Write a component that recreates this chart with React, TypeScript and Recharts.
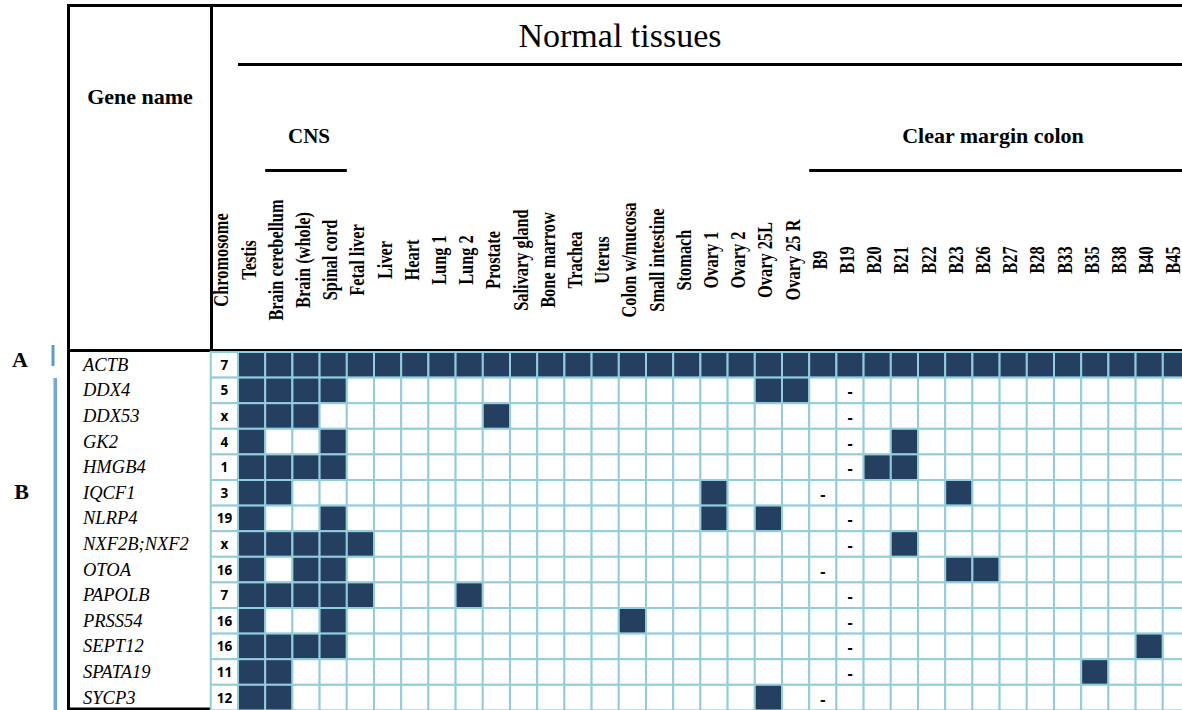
import React from 'react';
import { ScatterChart, Scatter, XAxis, YAxis, Customized } from 'recharts';

const tissues = [
  'Testis', 'Brain cerebellum', 'Brain (whole)', 'Spinal cord', 'Fetal liver', 'Liver', 'Heart',
  'Lung 1', 'Lung 2', 'Prostate', 'Salivary gland', 'Bone marrow', 'Trachea', 'Uterus',
  'Colon w/mucosa', 'Small intestine', 'Stomach', 'Ovary 1', 'Ovary 2', 'Ovary 25L', 'Ovary 25 R',
];
const colonSamples = ['B9', 'B19', 'B20', 'B21', 'B22', 'B23', 'B26', 'B27', 'B28', 'B33', 'B35', 'B38', 'B40', 'B45'];
const genes = ['ACTB', 'DDX4', 'DDX53', 'GK2', 'HMGB4', 'IQCF1', 'NLRP4', 'NXF2B;NXF2', 'OTOA', 'PAPOLB', 'PRSS54', 'SEPT12', 'SPATA19', 'SYCP3'];
const chromosomes = ['7', '5', 'x', '4', '1', '3', '19', 'x', '16', '7', '16', '16', '11', '12'];

// samples with expression, one list per gene
const actbOn = [...tissues, ...colonSamples];
const ddx4On = ['Testis', 'Brain cerebellum', 'Brain (whole)', 'Spinal cord', 'Ovary 25L', 'Ovary 25 R'];
const ddx53On = ['Testis', 'Brain cerebellum', 'Brain (whole)', 'Prostate'];
const gk2On = ['Testis', 'Spinal cord', 'B21'];
const hmgb4On = ['Testis', 'Brain cerebellum', 'Brain (whole)', 'Spinal cord', 'B20', 'B21'];
const iqcf1On = ['Testis', 'Brain cerebellum', 'Ovary 1', 'B23'];
const nlrp4On = ['Testis', 'Spinal cord', 'Ovary 1', 'Ovary 25L'];
const nxf2On = ['Testis', 'Brain cerebellum', 'Brain (whole)', 'Spinal cord', 'Fetal liver', 'B21'];
const otoaOn = ['Testis', 'Brain (whole)', 'Spinal cord', 'B23', 'B26'];
const papolbOn = ['Testis', 'Brain cerebellum', 'Brain (whole)', 'Spinal cord', 'Fetal liver', 'Lung 2'];
const prss54On = ['Testis', 'Spinal cord', 'Colon w/mucosa'];
const sept12On = ['Testis', 'Brain cerebellum', 'Brain (whole)', 'Spinal cord', 'B40'];
const spata19On = ['Testis', 'Brain cerebellum', 'B35'];
const sycp3On = ['Testis', 'Brain cerebellum', 'Ovary 25L'];

// sample marked with a dash in each row
const dashSample = ['', 'B19', 'B19', 'B19', 'B19', 'B9', 'B19', 'B19', 'B9', 'B19', 'B19', 'B19', 'B19', 'B9'];

const detectedByGene = [
  actbOn, ddx4On, ddx53On, gk2On, hmgb4On, iqcf1On, nlrp4On,
  nxf2On, otoaOn, papolbOn, prss54On, sept12On, spata19On, sycp3On,
];

const samples = [...tissues, ...colonSamples];
const columns = ['Chromosome', ...samples];

const COL_W = 27.2;
const ROW_H = 25.6;
const TOP = 352;
const LEFT = 210.8;
const NAVY = '#243F60';
const GRID = '#92CDDC';
const SERIF = "'Liberation Serif', 'Times New Roman', serif";
const SANS = "'Open Sans', 'Noto Sans', 'Liberation Sans', sans-serif";

const chromCells = genes.map((_, r) => ({ col: -1, row: r, label: chromosomes[r] }));
const exprCells = genes.flatMap((_, r) =>
  samples.map((s, c) => ({
    col: c,
    row: r,
    on: detectedByGene[r].includes(s),
    dash: dashSample[r] === s,
  })),
);

const colStart = (name: string) => LEFT + columns.indexOf(name) * COL_W;

const ExprCell = (props: any) => {
  const { cx, cy, payload } = props;
  return (
    <g>
      <rect
        x={cx - COL_W / 2}
        y={cy - ROW_H / 2}
        width={COL_W}
        height={ROW_H}
        fill={payload.on ? NAVY : '#ffffff'}
        stroke={GRID}
        strokeWidth={2}
      />
      {payload.dash && (
        <text x={cx} y={cy + 7} textAnchor="middle" fontFamily={SANS} fontWeight={700} fontSize={16} fill="#000">
          -
        </text>
      )}
    </g>
  );
};

const ChromCell = (props: any) => {
  const { cx, cy, payload } = props;
  return (
    <g>
      <rect x={cx - COL_W / 2} y={cy - ROW_H / 2} width={COL_W} height={ROW_H} fill="#ffffff" stroke={GRID} strokeWidth={2} />
      <text x={cx} y={cy + 5} textAnchor="middle" fontFamily={SANS} fontWeight={700} fontSize={13.5} fill="#000">
        {payload.label}
      </text>
    </g>
  );
};

const ColumnTick = ({ x, payload }: any) => (
  <text
    transform={`translate(${x + 4},260) rotate(-90) scale(0.78,1)`}
    textAnchor="middle"
    fontFamily={SERIF}
    fontWeight={700}
    fontSize={21}
    fill="#000"
  >
    {columns[payload.value + 1]}
  </text>
);

const GeneTick = ({ y, payload }: any) => (
  <text x={83} y={y + 6} fontFamily={SERIF} fontStyle="italic" fontSize={18.5} fill="#000">
    {genes[payload.value]}
  </text>
);

const Frame = () => (
  <g>
    {/* outer frame and header rules */}
    <rect x={67} y={4} width={1200} height={3} fill="#000" />
    <rect x={67} y={4} width={3} height={706} fill="#000" />
    <rect x={210} y={4} width={3} height={706} fill="#000" />
    <rect x={67} y={349} width={1200} height={3} fill="#000" />
    <rect x={67} y={707.5} width={1200} height={3} fill="#000" />
    <rect x={colStart('Testis')} y={63} width={1000} height={3} fill="#000" />
    <rect
      x={colStart('Brain cerebellum')}
      y={169}
      width={colStart('Fetal liver') - colStart('Brain cerebellum')}
      height={3}
      fill="#000"
    />
    <rect x={colStart('B9')} y={169} width={400} height={3} fill="#000" />

    <text x={620} y={47} textAnchor="middle" fontFamily={SERIF} fontSize={34} fill="#000">
      Normal tissues
    </text>
    <text x={140} y={104} textAnchor="middle" fontFamily={SERIF} fontWeight={700} fontSize={22} fill="#000">
      Gene name
    </text>
    <text x={309} y={143} textAnchor="middle" fontFamily={SERIF} fontWeight={700} fontSize={21} fill="#000">
      CNS
    </text>
    <text x={993} y={143} textAnchor="middle" fontFamily={SERIF} fontWeight={700} fontSize={22} fill="#000">
      Clear margin colon
    </text>

    {/* group markers */}
    <text x={20} y={367} textAnchor="middle" fontFamily={SERIF} fontWeight={700} fontSize={22} fill="#000">
      A
    </text>
    <rect x={51.5} y={345} width={3} height={21} fill="#5B9BD5" />
    <text x={21.5} y={499} textAnchor="middle" fontFamily={SERIF} fontWeight={700} fontSize={22} fill="#000">
      B
    </text>
    <rect x={53.5} y={378} width={3.5} height={332} fill="#6FA8DC" />
  </g>
);

export default function App() {
  const width = 1192;
  const height = 712;
  const plotW = columns.length * COL_W;
  const plotH = genes.length * ROW_H;
  // the axes take 1px each, so the margins are reduced by that much
  return (
    <div style={{ position: 'absolute', left: 0, top: 0, width: 1182, height: 710, overflow: 'hidden', background: '#fff' }}>
      <ScatterChart
        width={width}
        height={height}
        margin={{ top: TOP - 1, left: LEFT - 1, right: width - LEFT - plotW, bottom: height - TOP - plotH }}
      >
        <XAxis
          type="number"
          dataKey="col"
          orientation="top"
          height={1}
          domain={[-1.5, samples.length - 0.5]}
          ticks={columns.map((_, i) => i - 1)}
          interval={0}
          axisLine={false}
          tickLine={false}
          tick={ColumnTick}
        />
        <YAxis
          type="number"
          dataKey="row"
          width={1}
          reversed
          domain={[-0.5, genes.length - 0.5]}
          ticks={genes.map((_, i) => i)}
          interval={0}
          axisLine={false}
          tickLine={false}
          tick={GeneTick}
        />
        <Scatter data={exprCells} shape={ExprCell} isAnimationActive={false} />
        <Scatter data={chromCells} shape={ChromCell} isAnimationActive={false} />
        <Customized component={Frame} />
      </ScatterChart>
    </div>
  );
}
